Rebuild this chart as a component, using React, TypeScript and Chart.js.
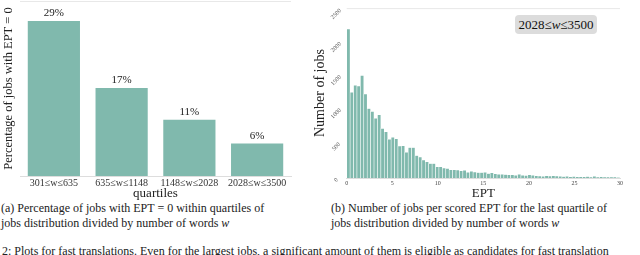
import React, { useEffect, useRef } from "react";
import { Chart, registerables } from "chart.js";

Chart.register(...registerables);

// ---------- data ----------
const QUARTILE_LABELS = ["301≤w≤635", "635≤w≤1148", "1148≤w≤2028", "2028≤w≤3500"];
const PCT_EPT_ZERO = [28.9, 16.5, 10.6, 6.2];

const EPT_BIN_WIDTH = 0.375;
const EPT_COUNTS = [
  2244, 1292, 1397, 1387, 1546, 1267, 1046, 1003, 902, 954,
  747, 699, 584, 613, 592, 483, 487, 390, 458, 458,
  338, 318, 270, 246, 217, 217, 169, 169, 150, 145,
  126, 126, 121, 111, 116, 87, 101, 92, 82, 82,
  87, 68, 78, 64, 58, 58, 53, 49, 49, 43,
  58, 43, 39, 49, 43, 35, 30, 28, 34, 32,
  33, 30, 25, 22, 27, 20, 24, 18, 20, 17,
  22, 16, 28, 15, 18, 14, 16, 12, 10, 8,
];
const EPT_TICKS = [0, 5, 10, 15, 20, 25, 30];
const JOB_TICKS = [0, 500, 1000, 1500, 2000, 2500];

const BAR_COLOR = "#80b9ad";
const SERIF = "'Liberation Serif', 'DejaVu Serif', serif";

const topLine = {
  id: "topLine",
  beforeDatasetsDraw(chart: any) {
    const { ctx, chartArea } = chart;
    ctx.save();
    ctx.strokeStyle = "#e8e8e8";
    ctx.lineWidth = 1;
    ctx.beginPath();
    ctx.moveTo(chartArea.left, chartArea.top + 0.5);
    ctx.lineTo(chartArea.right, chartArea.top + 0.5);
    ctx.stroke();
    ctx.restore();
  },
};

const pctLabels = {
  id: "pctLabels",
  afterDatasetsDraw(chart: any) {
    const { ctx } = chart;
    const meta = chart.getDatasetMeta(0);
    ctx.save();
    ctx.font = `11px ${SERIF}`;
    ctx.fillStyle = "#222";
    ctx.textAlign = "center";
    ctx.textBaseline = "bottom";
    meta.data.forEach((bar: any, i: number) => {
      ctx.fillText(Math.round(PCT_EPT_ZERO[i]) + "%", bar.x, bar.y - 1);
    });
    ctx.restore();
  },
};

function LeftChart() {
  const ref = useRef<HTMLCanvasElement>(null);
  useEffect(() => {
    const chart = new Chart(ref.current!, {
      type: "bar",
      data: {
        labels: QUARTILE_LABELS,
        datasets: [
          {
            data: PCT_EPT_ZERO,
            backgroundColor: BAR_COLOR,
            borderColor: "rgba(255,255,255,0.9)",
            borderWidth: 1,
            barPercentage: 0.8,
            categoryPercentage: 1,
          },
        ],
      },
      options: {
        responsive: false,
        animation: false,
        layout: { padding: { left: 0, right: 9, top: 1, bottom: 0 } },
        plugins: { legend: { display: false }, tooltip: { enabled: false } },
        scales: {
          x: {
            grid: { display: false, drawTicks: false },
            border: { display: true, color: "#dddddd" },
            ticks: { font: { family: SERIF, size: 10 }, color: "#333", padding: 1, maxRotation: 0 },
            title: {
              display: true,
              text: "quartiles",
              font: { family: SERIF, size: 13, lineHeight: 1.1 },
              color: "#222",
              padding: { top: 0, bottom: -1 },
            },
            afterFit: (s: any) => {
              s.height = 24;
            },
          },
          y: {
            min: 0,
            max: 32.4,
            grid: { display: false, drawTicks: false },
            border: { display: false },
            ticks: { display: false },
            title: {
              display: true,
              text: "Percentage of jobs with EPT = 0",
              font: { family: SERIF, size: 12.5, lineHeight: 1.2 },
              color: "#222",
              padding: { top: 1, bottom: 0 },
            },
            afterFit: (s: any) => {
              s.width = 20;
            },
          },
        },
      },
      plugins: [topLine, pctLabels],
    } as any);
    return () => chart.destroy();
  }, []);
  return (
    <canvas
      ref={ref}
      width={300}
      height={200}
      style={{ position: "absolute", left: 0, top: 0, width: 300, height: 200 }}
    />
  );
}

function RightChart() {
  const ref = useRef<HTMLCanvasElement>(null);
  useEffect(() => {
    const points = EPT_COUNTS.map((c, i) => ({ x: (i + 0.5) * EPT_BIN_WIDTH, y: c }));
    const chart = new Chart(ref.current!, {
      type: "bar",
      data: {
        datasets: [
          {
            data: points,
            backgroundColor: BAR_COLOR,
            borderColor: "rgba(255,255,255,0.75)",
            borderWidth: 0.6,
            barPercentage: 1,
            categoryPercentage: 1,
          },
        ],
      },
      options: {
        responsive: false,
        animation: false,
        layout: { padding: { left: 0, right: 20, top: 1, bottom: 0 } },
        plugins: { legend: { display: false }, tooltip: { enabled: false } },
        scales: {
          x: {
            type: "linear",
            min: 0,
            max: 30,
            offset: false,
            grid: { display: false, drawTicks: false, offset: false },
            border: { display: true, color: "#dddddd" },
            afterBuildTicks: (s: any) => {
              s.ticks = EPT_TICKS.map((v) => ({ value: v }));
            },
            ticks: {
              font: { family: SERIF, size: 6 },
              color: "#444",
              padding: 2,
              maxRotation: 0,
              callback: (v: any) => String(v),
            },
            title: {
              display: true,
              text: "EPT",
              font: { family: SERIF, size: 13, lineHeight: 1.1 },
              color: "#222",
              padding: { top: 0, bottom: -1 },
            },
            afterFit: (s: any) => {
              s.height = 22;
            },
          },
          y: {
            min: 0,
            max: 2560,
            grid: { display: false, drawTicks: false },
            border: { display: false },
            afterBuildTicks: (s: any) => {
              s.ticks = JOB_TICKS.map((v) => ({ value: v }));
            },
            ticks: {
              font: { family: SERIF, size: 6 },
              color: "#555",
              minRotation: 45,
              maxRotation: 45,
              crossAlign: "center",
              padding: 4.5,
              labelOffset: 2,
              callback: (v: any) => String(v),
            },
            title: {
              display: true,
              text: "Number of jobs",
              font: { family: SERIF, size: 14, lineHeight: 1.2 },
              color: "#222",
              padding: { top: 2, bottom: 0 },
            },
            afterFit: (s: any) => {
              s.width = 36.7;
            },
          },
        },
      },
      plugins: [topLine],
    } as any);
    return () => chart.destroy();
  }, []);
  return (
    <canvas
      ref={ref}
      width={330}
      height={200}
      style={{ position: "absolute", left: 310, top: 0, width: 330, height: 200 }}
    />
  );
}

export default function App() {
  const cap: React.CSSProperties = {
    position: "absolute",
    fontFamily: SERIF,
    fontSize: 12,
    lineHeight: "14.5px",
    color: "#222",
    whiteSpace: "nowrap",
  };
  return (
    <div
      style={{
        position: "absolute",
        left: 0,
        top: 0,
        width: 640,
        height: 255,
        overflow: "hidden",
        background: "#fff",
      }}
    >
      <LeftChart />
      <RightChart />
      <div
        style={{
          position: "absolute",
          left: 515,
          top: 15,
          width: 82,
          height: 19,
          background: "#dcdcdc",
          borderRadius: 4,
          fontFamily: SERIF,
          fontSize: 13,
          lineHeight: "19px",
          textAlign: "center",
          color: "#111",
        }}
      >
        2028≤<i>w</i>≤3500
      </div>
      <div style={{ ...cap, left: 1, top: 201 }}>
        (a) Percentage of jobs with EPT = 0 within quartiles of
        <br />
        jobs distribution divided by number of words <i>w</i>
      </div>
      <div style={{ ...cap, left: 331, top: 201 }}>
        (b) Number of jobs per scored EPT for the last quartile of
        <br />
        jobs distribution divided by number of words <i>w</i>
      </div>
      <div style={{ ...cap, left: 2, top: 244 }}>
        2: Plots for fast translations. Even for the largest jobs, a significant amount of them is eligible as candidates for fast translation
      </div>
    </div>
  );
}
